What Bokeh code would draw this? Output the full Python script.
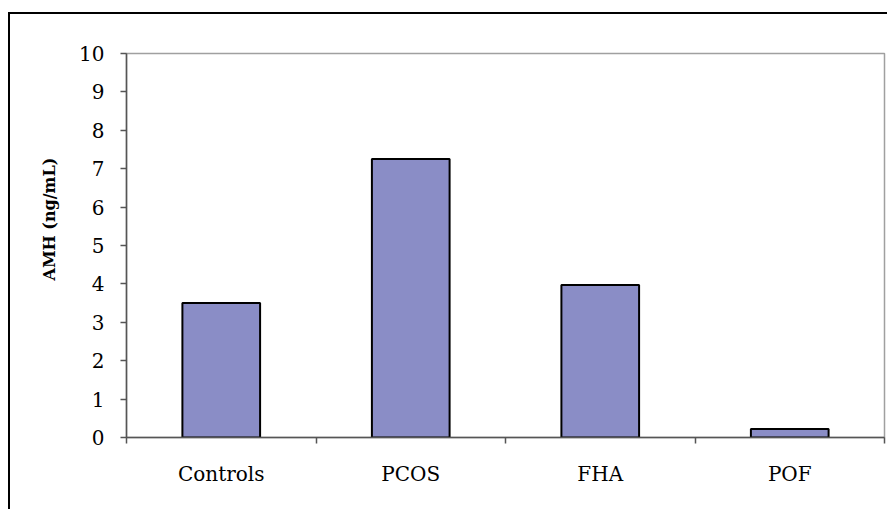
from bokeh.plotting import figure
from bokeh.models import Range1d, FixedTicker, Title
from bokeh.embed import file_html
from bokeh.resources import INLINE

categories = ["Controls", "PCOS", "FHA", "POF"]
amh_values = [3.50, 7.25, 3.97, 0.22]
y_ticks = [0, 1, 2, 3, 4, 5, 6, 7, 8, 9, 10]
y_title = "AMH (ng/mL)"

n = len(categories)
x_centers = [i + 0.5 for i in range(n)]
boundaries = list(range(n + 1))

FONT = "DejaVu Serif"

p = figure(width=879, height=497, output_backend="svg", toolbar_location=None,
           x_range=Range1d(0, n), y_range=Range1d(y_ticks[0], y_ticks[-1]),
           min_border_left=116, min_border_right=5, min_border_top=39,
           min_border_bottom=74, background_fill_color="white",
           border_fill_color="white")
p.styles = {"border-left": "2px solid black", "border-top": "2px solid black",
            "position": "relative", "top": "12px", "left": "8px"}

p.vbar(x=x_centers, top=amh_values, width=0.41, bottom=0,
       fill_color="#8A8DC6", line_color="black", line_width=2)

p.xgrid.visible = False
p.ygrid.visible = False
p.outline_line_color = "#A0A0A0"
p.outline_line_width = 1.5

xa = p.xaxis[0]
xa.ticker = FixedTicker(ticks=x_centers, minor_ticks=boundaries)
xa.major_label_overrides = {x: c for x, c in zip(x_centers, categories)}
xa.major_tick_line_color = None
xa.minor_tick_in = 0
xa.minor_tick_out = 6
xa.minor_tick_line_color = "#555555"
xa.minor_tick_line_width = 1.5
xa.axis_line_color = "#555555"
xa.axis_line_width = 1.5
xa.major_label_text_font = FONT
xa.major_label_text_font_size = "20px"
xa.major_label_text_color = "black"
xa.major_label_standoff = 18

ya = p.yaxis[0]
ya.ticker = FixedTicker(ticks=y_ticks)
ya.major_tick_in = 0
ya.major_tick_out = 6
ya.major_tick_line_color = "#555555"
ya.major_tick_line_width = 1.5
ya.minor_tick_line_color = None
ya.axis_line_color = "#555555"
ya.axis_line_width = 1.5
ya.major_label_text_font = FONT
ya.major_label_text_font_size = "20px"
ya.major_label_text_color = "black"
ya.major_label_standoff = 16

t = Title(text=y_title, align="left", offset=157, text_font=FONT,
          text_font_size="16px", text_font_style="bold", text_color="black",
          standoff=35)
p.add_layout(t, "left")

open("out.html", "w").write(file_html(p, INLINE))
